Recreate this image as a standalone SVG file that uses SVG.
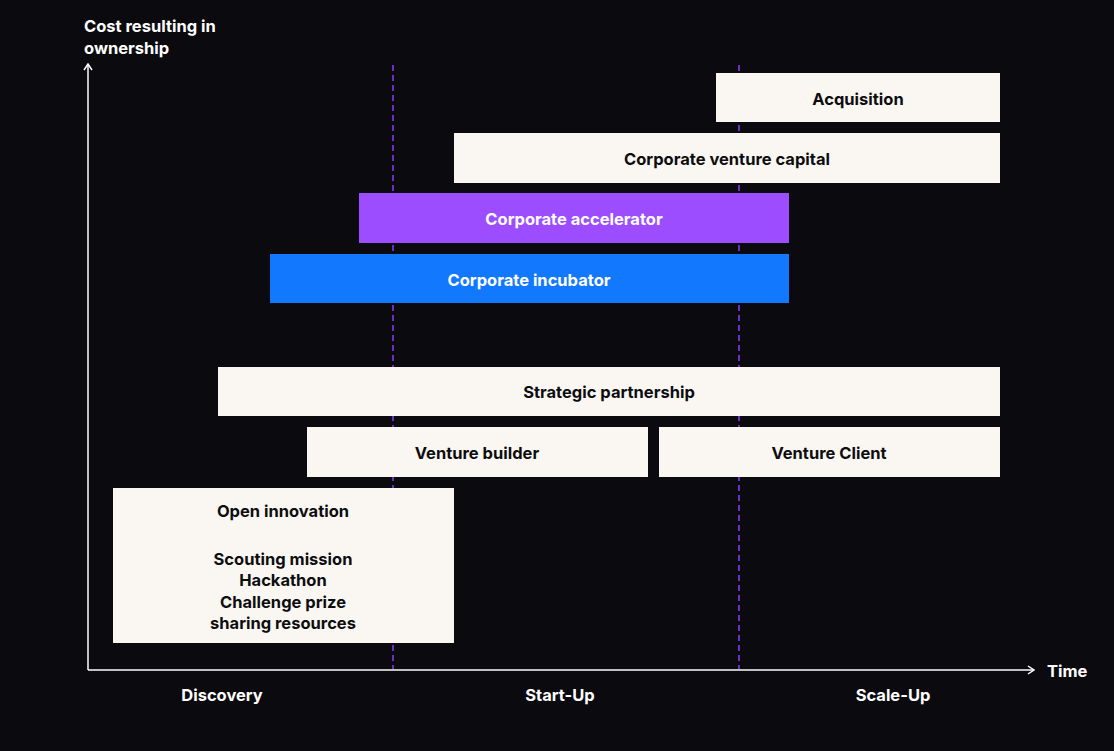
<svg xmlns="http://www.w3.org/2000/svg" width="1114" height="751" viewBox="0 0 1114 751">
<defs>
<style>
.t{font-family:Inter,"Liberation Sans",sans-serif;font-weight:700;font-size:16.5px;text-anchor:middle}
.w{fill:#ffffff}
.d{fill:#0d0d10}
.box{fill:#faf7f2}
.axis{stroke:#ffffff;stroke-width:1.5;fill:none}
.dash{stroke:#8a3ffc;stroke-width:1.5;stroke-dasharray:6 4;fill:none}
</style>
<marker id="arr" viewBox="0 0 10 10" refX="9" refY="5" markerWidth="10" markerHeight="10" markerUnits="userSpaceOnUse" orient="auto">
<path d="M3,1 L9,5 L3,9" fill="none" stroke="#ffffff" stroke-width="1.5"/>
</marker>
</defs>
<rect width="1114" height="751" fill="#0b0a0e"/>
<g id="connectors">
<line class="dash" x1="393" y1="65" x2="393" y2="669"/>
<line class="dash" x1="739" y1="65" x2="739" y2="669"/>
<line class="axis" x1="88" y1="670" x2="88" y2="64" marker-end="url(#arr)"/>
<line class="axis" x1="88" y1="670" x2="1034" y2="670" marker-end="url(#arr)"/>
</g>
<g id="axis-labels">
<text class="t w" x="84" y="32" style="text-anchor:start">Cost resulting in</text>
<text class="t w" x="84" y="54" style="text-anchor:start">ownership</text>
<text class="t w" x="1047" y="677" style="text-anchor:start">Time</text>
<text class="t w" x="222" y="701">Discovery</text>
<text class="t w" x="560" y="701">Start-Up</text>
<text class="t w" x="893" y="701">Scale-Up</text>
</g>
<g id="acquisition">
<rect class="box" x="716" y="73" width="284" height="49"/>
<text class="t d" x="858" y="105">Acquisition</text>
</g>
<g id="cvc">
<rect class="box" x="454" y="133" width="546" height="50"/>
<text class="t d" x="727" y="165">Corporate venture capital</text>
</g>
<g id="accelerator">
<rect x="359" y="193" width="430" height="50" fill="#9b4dff"/>
<text class="t w" x="574" y="225">Corporate accelerator</text>
</g>
<g id="incubator">
<rect x="270" y="254" width="519" height="49" fill="#1279ff"/>
<text class="t w" x="529" y="286">Corporate incubator</text>
</g>
<g id="strategic">
<rect class="box" x="218" y="367" width="782" height="49"/>
<text class="t d" x="609" y="398">Strategic partnership</text>
</g>
<g id="venture-builder">
<rect class="box" x="307" y="427" width="341" height="50"/>
<text class="t d" x="477" y="459">Venture builder</text>
</g>
<g id="venture-client">
<rect class="box" x="659" y="427" width="341" height="50"/>
<text class="t d" x="829" y="459">Venture Client</text>
</g>
<g id="open-innovation">
<rect class="box" x="113" y="488" width="341" height="155"/>
<text class="t d" x="283" y="517">Open innovation</text>
<text class="t d" x="283" y="565">Scouting mission</text>
<text class="t d" x="283" y="586">Hackathon</text>
<text class="t d" x="283" y="608">Challenge prize</text>
<text class="t d" x="283" y="629">sharing resources</text>
</g>
</svg>
